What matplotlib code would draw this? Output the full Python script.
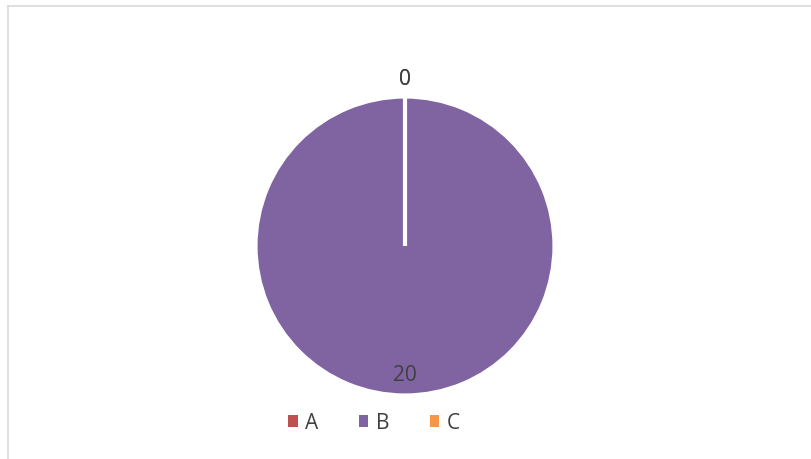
import numpy as np
import matplotlib.pyplot as plt
from matplotlib.lines import Line2D
from matplotlib.patches import Patch

# chart data
categories = ['A', 'B', 'C']
values = [0, 20, 0]
colors = ['#C0504D', '#8064A2', '#F79646']

W, H = 812, 460
LABEL_COLOR = '#404040'
FONT_SIZE = 15
plt.rcParams['font.family'] = ['Open Sans', 'DejaVu Sans']

fig = plt.figure(figsize=(W / 100, H / 100), dpi=100)

# pie centre and radius in pixels
cx, cy, r = 405, 247, 149.5
ax = fig.add_axes([(cx - r) / W, (H - cy - r) / H, 2 * r / W, 2 * r / H])

wedges, _ = ax.pie(values, colors=colors, startangle=90, counterclock=False,
                   radius=1, wedgeprops=dict(edgecolor='white', linewidth=3))
ax.set_xlim(-1, 1)
ax.set_ylim(-1, 1)
ax.set_aspect('equal')
ax.axis('off')

# data labels: zero slices sit outside, others inside near the rim
for w, v in zip(wedges, values):
    mid = np.radians((w.theta1 + w.theta2) / 2)
    dist = 1.12 if v == 0 else 0.86
    ax.text(dist * np.cos(mid), dist * np.sin(mid), f'{v}',
            ha='center', va='center', fontsize=FONT_SIZE, color=LABEL_COLOR)

# legend at the bottom
handles = [Patch(facecolor=c, edgecolor='none') for c in colors]
fig.legend(handles, categories, loc='center', ncol=3,
           bbox_to_anchor=(374 / W, 1 - 424 / H), frameon=False,
           handlelength=0.45, handleheight=0.45, handletextpad=0.35,
           columnspacing=1.95, fontsize=FONT_SIZE, labelcolor=LABEL_COLOR)

# chart area border (left and top visible)
bx, by = 7.5 / W, 1 - 6.5 / H
fig.add_artist(Line2D([bx, bx], [0, by], transform=fig.transFigure,
                      color='#d9d9d9', linewidth=1.2))
fig.add_artist(Line2D([bx, 1], [by, by], transform=fig.transFigure,
                      color='#d9d9d9', linewidth=1.2))

fig.savefig('out.png', dpi=100)
